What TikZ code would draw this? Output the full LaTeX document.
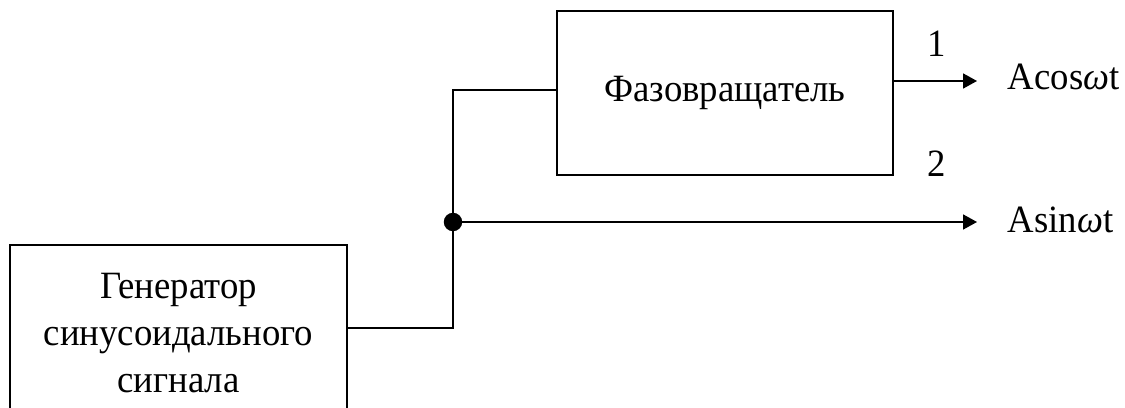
\documentclass[tikz,border=0pt]{standalone}
\usepackage{fontspec}
\setmainfont{Liberation Serif}[FakeStretch=0.95]
\usetikzlibrary{arrows.meta}

\begin{document}
\begin{tikzpicture}[x=0.02cm, y=-0.02cm, line width=1pt,
    blk/.style = {draw, rectangle, align=center, inner sep=0pt, font=\fontsize{22}{27}\selectfont},
    lbl/.style = {inner sep=0pt, font=\fontsize{22}{26}\selectfont},
    sig/.style = {-{Triangle[length=0.28cm, width=0.3cm]}}]
            \clip (0,0) rectangle (1125,408);
            \useasboundingbox (0,0) rectangle (1125,408);

            % blocks
            \node[blk, minimum width=6.74cm, minimum height=3.52cm] (g) at (178.5,333) {Генератор\\синусоидального\\сигнала};
            \node[blk, minimum width=6.72cm, minimum height=3.28cm] (f) at (725,93) {Фазовращатель};

            % branch point and outputs
            \coordinate (a) at (453,328);
            \coordinate (b) at (453,90);
            \coordinate (c) at (453,222);
            \coordinate (d) at (977,81);
            \coordinate (e) at (977,222);

            \draw (g.east |- a) -- (a) -- (b) -- (f.west |- b);
            \draw[sig] (f.east |- d) -- (d);
            \draw[sig] (c) -- (e);
            \node at (c) [circle, fill=black, minimum size=10.5pt, inner sep=0pt, outer sep=0pt] {};

            \node[lbl, anchor=base west] (y1) at (1007,90) {Acos{\itshape ω}t};
            \node[lbl, anchor=base west] (y2) at (1007,233) {Asin{\itshape ω}t};
            \node[lbl] (n1) at (937,44) {1};
            \node[lbl] (n2) at (937,164) {2};
          \end{tikzpicture}
\end{document}
